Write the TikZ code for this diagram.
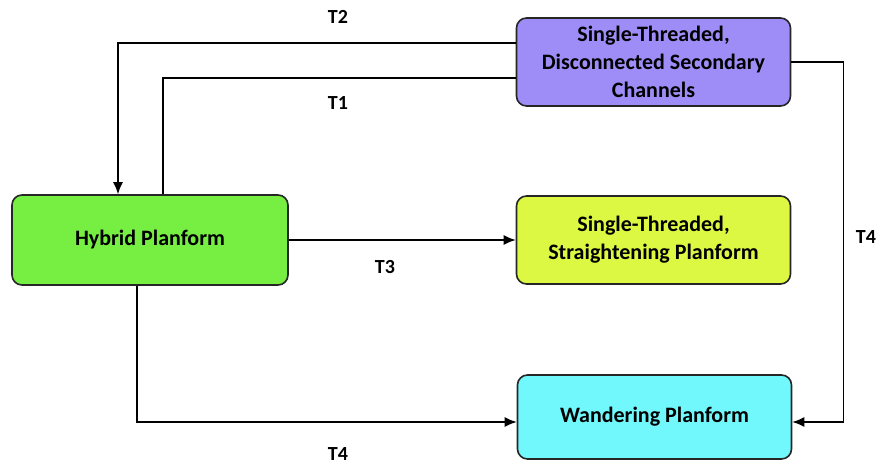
\documentclass[tikz,border=0pt]{standalone}
\usepackage{fontspec}
\setmainfont{Carlito}
\usetikzlibrary{positioning}
\usetikzlibrary{arrows.meta}
\definecolor{boxpurple}{RGB}{158,140,247}
\definecolor{boxgreen}{RGB}{118,238,66}
\definecolor{boxyellow}{RGB}{220,248,66}
\definecolor{boxcyan}{RGB}{112,248,252}
\tikzset{
planform/.style={ % Sets the properties for each planform box
draw=black!85,
line width=0.8pt,
rounded corners=5pt,
align=center,
font=\fontsize{11}{14}\selectfont\bfseries,
minimum width=137pt,
minimum height=44pt},
tlabel/.style={font=\fontsize{10}{12}\selectfont\bfseries}, % transition labels
link/.style={-{Latex[length=6pt,width=5pt]}, line width=0.7pt}, % transition arrows
every edge/.style={ % Sets the properties for each transition
draw,
link}}

\begin{document}
\begin{tikzpicture}[x=0.5pt,y=-0.5pt]
\useasboundingbox (0,0) rectangle (879,465);
\node[planform, fill=boxpurple] (sdc) at (653.5,62) {Single-Threaded,\\Disconnected Secondary\\Channels};
\node[planform, fill=boxgreen, minimum width=138pt, minimum height=45pt] (hyb) at (150,240) {Hybrid Planform};
\node[planform, fill=boxyellow] (stp) at (653.5,240) {Single-Threaded,\\Straightening Planform};
\node[planform, fill=boxcyan, minimum height=42pt] (wan) at (654.5,417) {Wandering Planform};
\node[tlabel] (t2) at (338,17) {T2};
\node[tlabel] (t1) at (338,103) {T1};
\node[tlabel] (t3) at (385,267) {T3};
\node[tlabel] (t4a) at (866,237) {T4};
\node[tlabel] (t4b) at (338,454) {T4};
\draw[link] ([yshift=9.5pt]sdc.west) -| ([xshift=-16pt]hyb.north);
\draw[line width=0.7pt] ([xshift=6.5pt]hyb.north) |- ([yshift=-8pt]sdc.west);
\draw (hyb.east) edge (stp.west);
\draw[link] ([xshift=-6.5pt]hyb.south) |- ([yshift=-2.5pt]wan.west);
\draw[link] (sdc.east) -- ++(26pt,0) |- ([yshift=-2.5pt]wan.east);
\end{tikzpicture}
\end{document}
